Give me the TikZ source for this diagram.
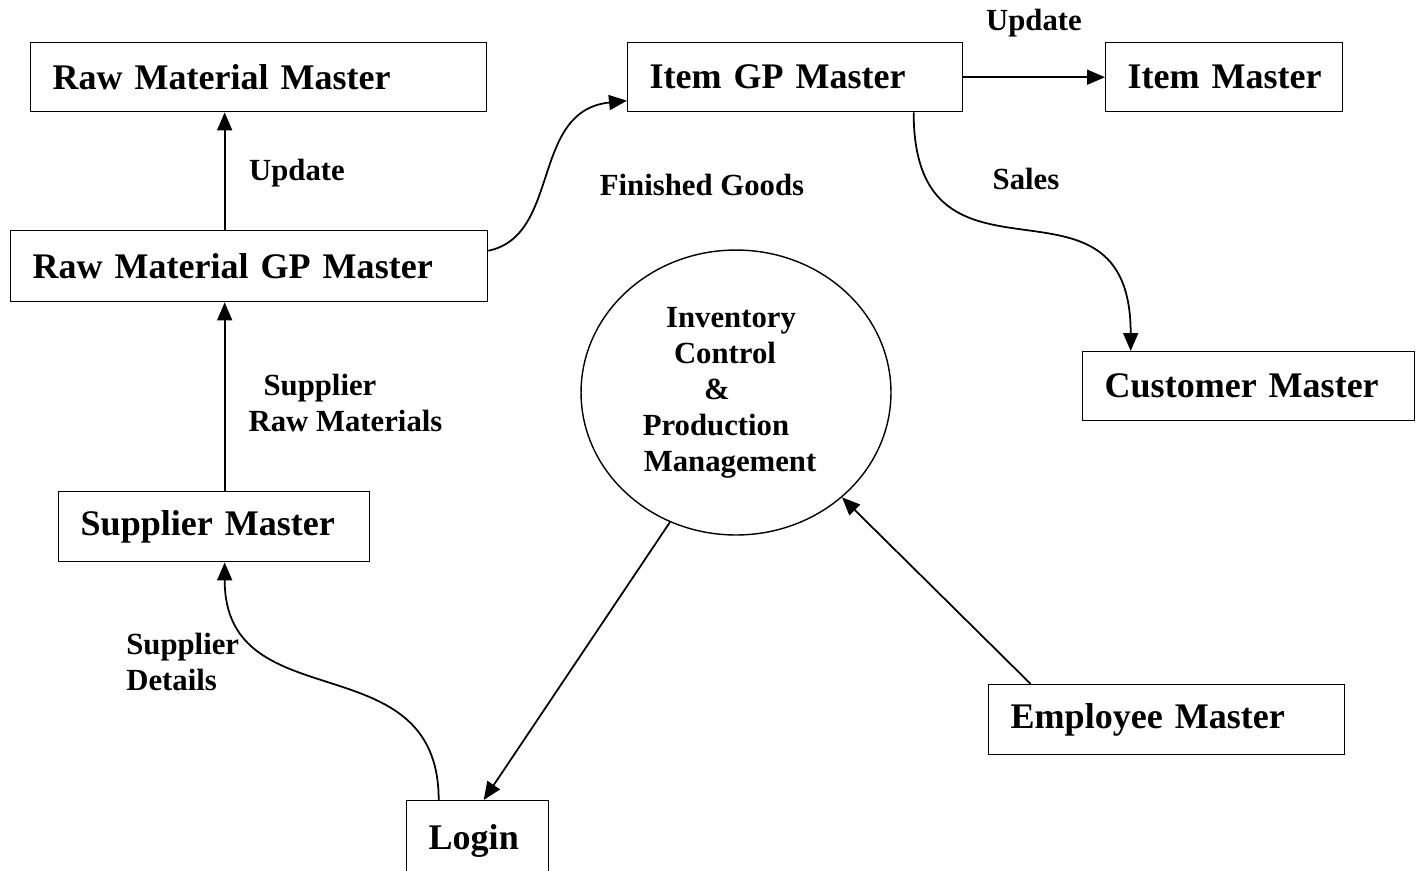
\documentclass[tikz,border=0pt]{standalone}
\usepackage{fontspec}
\setmainfont{Liberation Serif}
\usetikzlibrary{arrows.meta,shapes.geometric}

\tikzset{
  masterbox/.style={draw, line width=0.8pt, anchor=north west, align=left,
    inner xsep=0.44cm, inner ysep=0pt, minimum height=1.38cm,
    execute at begin node={\hyphenpenalty=10000},
    font=\fontsize{20.5}{24}\selectfont\bfseries},
  flowlabel/.style={inner sep=0pt, font=\fontsize{17.5}{20.5}\selectfont\bfseries},
  flow/.style={line width=1pt, -{Triangle[length=0.36cm,width=0.3cm]}},
}

\begin{document}
\begin{tikzpicture}[x=0.02cm, y=-0.02cm]

% Page frame (pixel grid of the drawing)
\useasboundingbox (0,0) rectangle (1419,870);

% Master tables
\node[masterbox, text width=8.24cm] (rmm) at (30,42) {Raw~Material~Master};
\node[masterbox, text width=5.82cm] (igp) at (627,42) {Item~GP~Master};
\node[masterbox, text width=3.86cm] (im) at (1105,42) {\mbox{Item Master}};
\node[masterbox, text width=8.66cm, minimum height=1.42cm] (rmgp) at (10,230) {Raw~Material~GP~Master};
\node[masterbox, text width=5.76cm] (cust) at (1082,351) {Customer~Master};
\node[masterbox, text width=5.34cm, minimum height=1.4cm] (sup) at (58,491) {Supplier~Master};
\node[masterbox, text width=6.24cm, minimum height=1.4cm] (emp) at (988,684) {Employee~Master};
\node[masterbox, text width=1.96cm, minimum height=1.6cm] (login) at (406,800) {Login};

% Central process (lines set slightly left of the centre, as drawn)
\node[ellipse, draw, line width=0.8pt, minimum width=6.2cm, minimum height=5.7cm,
  inner sep=0pt, align=center, font=\fontsize{17.5}{20.5}\selectfont\bfseries]
  (icpm) at (736,392.5) {Inventory\hspace*{0.2cm}\mbox{}\\Control\hspace*{0.44cm}\mbox{}\\\&\hspace*{0.76cm}\mbox{}\\
    Production\hspace*{0.8cm}\mbox{}\\Management\hspace*{0.24cm}\mbox{}};

% Flows
\draw[flow] ([xshift=-0.49cm]rmgp.north) -- ([xshift=-0.49cm]rmgp.north |- rmm.south);
\draw[flow] ([xshift=0.21cm]sup.north) -- ([xshift=0.21cm]sup.north |- rmgp.south);
\draw[flow] ([xshift=-0.78cm]login.north) .. controls +(0,-160) and +(0,160) .. ([xshift=0.21cm]sup.south);
\draw[flow] ([yshift=0.31cm]rmgp.east) .. controls +(73,-15) and +(-97,10) .. ([yshift=-0.47cm]igp.west);
\draw[flow] (igp.east) -- (im.west);
\draw[flow] ([xshift=2.37cm]igp.south) .. controls +(0,200) and +(0,-200) .. ([xshift=-2.36cm]cust.north);
\draw[flow] (icpm.243) -- ([xshift=0.12cm]login.north);
\draw[flow] ([xshift=-2.72cm]emp.north) -- (icpm);

% Labels
\node[flowlabel] (lblupdate) at (297,173) {Update};
\node[flowlabel, align=left] (lblsupraw) at (345.5,403) {\hspace*{0.3cm}Supplier\\Raw Materials};
\node[flowlabel, align=left, anchor=west] (lblsupdet) at (126,662) {Supplier\\Details};
\node[flowlabel] (lblfinished) at (702,185) {Finished Goods};
\node[flowlabel] (lblupdateitem) at (1034,23) {Update};
\node[flowlabel] (lblsales) at (1026,179) {Sales};

\end{tikzpicture}
\end{document}
